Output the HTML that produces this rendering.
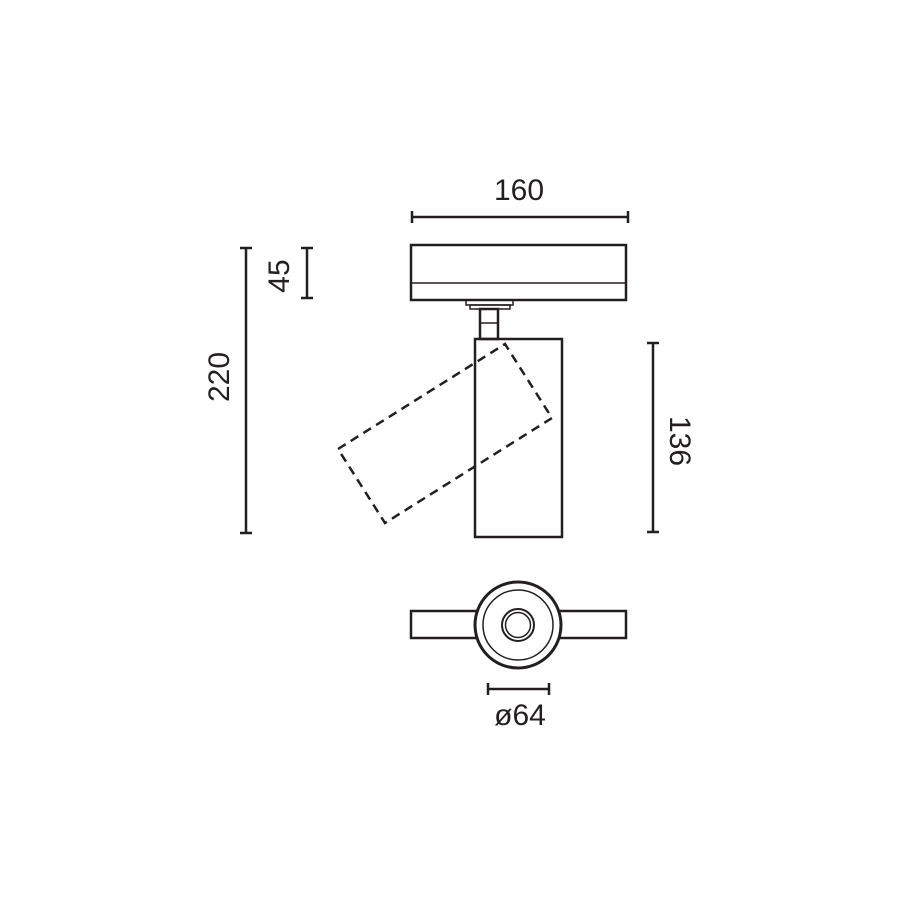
<!DOCTYPE html>
<html><head><style>html,body{margin:0;padding:0;background:#fff}</style></head><body>
<svg width="900" height="900" viewBox="0 0 900 900" xmlns="http://www.w3.org/2000/svg">
<rect width="900" height="900" fill="#fff"/>
<g fill="none" stroke="#231f20" stroke-width="2.5">
<rect x="411" y="245" width="215" height="55"/>
<line x1="411" y1="283" x2="626" y2="283" stroke-width="1.5"/>
<rect x="466" y="300" width="47" height="5" stroke-width="1.5"/>
<rect x="470" y="305" width="40" height="4" stroke-width="1.5"/>
<rect x="480" y="309" width="18" height="30"/>
<line x1="480" y1="323" x2="498" y2="323" stroke-width="1.5"/>
<rect x="475" y="339" width="87" height="198"/>
<polygon points="338,449 505,344 552,418 385,523" stroke-dasharray="9,6"/>
<line x1="412" y1="217" x2="628" y2="217"/>
<line x1="412" y1="211" x2="412" y2="223"/><line x1="628" y1="211" x2="628" y2="223"/>
<line x1="246" y1="248" x2="246" y2="533"/>
<line x1="240" y1="248" x2="252" y2="248"/><line x1="240" y1="533" x2="252" y2="533"/>
<line x1="307" y1="248" x2="307" y2="298"/>
<line x1="301" y1="248" x2="313" y2="248"/><line x1="301" y1="298" x2="313" y2="298"/>
<line x1="653" y1="343" x2="653" y2="532"/>
<line x1="647" y1="343" x2="659" y2="343"/><line x1="647" y1="532" x2="659" y2="532"/>
<rect x="411" y="611" width="215" height="27"/>
<circle cx="518" cy="625" r="43" fill="#fff" stroke-width="3"/>
<circle cx="518" cy="625" r="35" stroke-width="1.5"/>
<circle cx="518" cy="625" r="16" stroke-width="2"/>
<circle cx="518" cy="625" r="12.5" stroke-width="1.5"/>
<line x1="488" y1="689" x2="549" y2="689"/>
<line x1="488" y1="683" x2="488" y2="695"/><line x1="549" y1="683" x2="549" y2="695"/>
</g>
<g font-family="Liberation Sans, sans-serif" font-size="30" fill="#231f20" text-anchor="middle">
<text x="519" y="200">160</text>
<text x="520" y="725">ø64</text>
<text transform="translate(229,377) rotate(-90)">220</text>
<text transform="translate(289,276) rotate(-90)">45</text>
<text transform="translate(670,441) rotate(90)">136</text>
</g>
</svg>
</body></html>
